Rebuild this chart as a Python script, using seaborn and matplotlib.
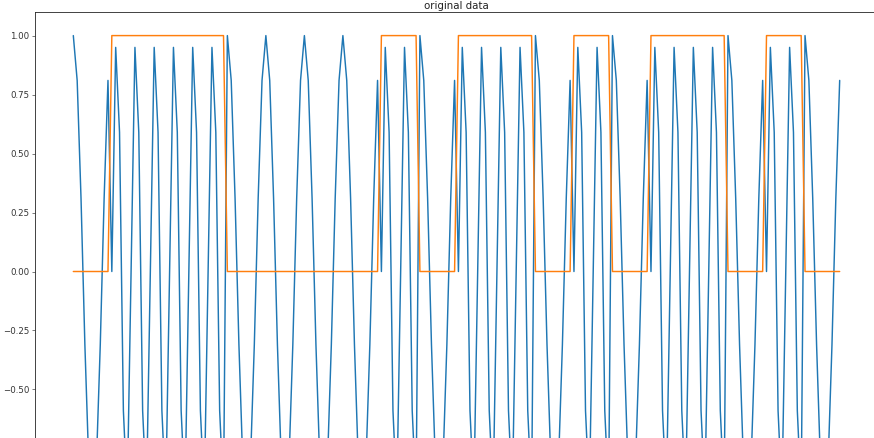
import matplotlib
matplotlib.use("Agg")
import matplotlib.pyplot as plt
import seaborn as sns
import pandas as pd

# Sample index
sample_index = list(range(200))

signal = [
    1.00, 0.81, 0.31, -0.31, -0.81, -1.00, -0.81, -0.31, 0.31, 0.81,
    0.00, 0.95, 0.59, -0.59, -0.95, 0.00, 0.95, 0.59, -0.59, -0.95,
    0.00, 0.95, 0.59, -0.59, -0.95, 0.00, 0.95, 0.59, -0.59, -0.95,
    0.00, 0.95, 0.59, -0.59, -0.95, 0.00, 0.95, 0.59, -0.59, -0.95,
    1.00, 0.81, 0.31, -0.31, -0.81, -1.00, -0.81, -0.31, 0.31, 0.81,
    1.00, 0.81, 0.31, -0.31, -0.81, -1.00, -0.81, -0.31, 0.31, 0.81,
    1.00, 0.81, 0.31, -0.31, -0.81, -1.00, -0.81, -0.31, 0.31, 0.81,
    1.00, 0.81, 0.31, -0.31, -0.81, -1.00, -0.81, -0.31, 0.31, 0.81,
    0.00, 0.95, 0.59, -0.59, -0.95, 0.00, 0.95, 0.59, -0.59, -0.95,
    1.00, 0.81, 0.31, -0.31, -0.81, -1.00, -0.81, -0.31, 0.31, 0.81,
    0.00, 0.95, 0.59, -0.59, -0.95, 0.00, 0.95, 0.59, -0.59, -0.95,
    0.00, 0.95, 0.59, -0.59, -0.95, 0.00, 0.95, 0.59, -0.59, -0.95,
    1.00, 0.81, 0.31, -0.31, -0.81, -1.00, -0.81, -0.31, 0.31, 0.81,
    0.00, 0.95, 0.59, -0.59, -0.95, 0.00, 0.95, 0.59, -0.59, -0.95,
    1.00, 0.81, 0.31, -0.31, -0.81, -1.00, -0.81, -0.31, 0.31, 0.81,
    0.00, 0.95, 0.59, -0.59, -0.95, 0.00, 0.95, 0.59, -0.59, -0.95,
    0.00, 0.95, 0.59, -0.59, -0.95, 0.00, 0.95, 0.59, -0.59, -0.95,
    1.00, 0.81, 0.31, -0.31, -0.81, -1.00, -0.81, -0.31, 0.31, 0.81,
    0.00, 0.95, 0.59, -0.59, -0.95, 0.00, 0.95, 0.59, -0.59, -0.95,
    1.00, 0.81, 0.31, -0.31, -0.81, -1.00, -0.81, -0.31, 0.31, 0.81,
]

# Orange series: binary state (10 samples per row)
state = [
    0, 0, 0, 0, 0, 0, 0, 0, 0, 0,
    1, 1, 1, 1, 1, 1, 1, 1, 1, 1,
    1, 1, 1, 1, 1, 1, 1, 1, 1, 1,
    1, 1, 1, 1, 1, 1, 1, 1, 1, 1,
    0, 0, 0, 0, 0, 0, 0, 0, 0, 0,
    0, 0, 0, 0, 0, 0, 0, 0, 0, 0,
    0, 0, 0, 0, 0, 0, 0, 0, 0, 0,
    0, 0, 0, 0, 0, 0, 0, 0, 0, 0,
    1, 1, 1, 1, 1, 1, 1, 1, 1, 1,
    0, 0, 0, 0, 0, 0, 0, 0, 0, 0,
    1, 1, 1, 1, 1, 1, 1, 1, 1, 1,
    1, 1, 1, 1, 1, 1, 1, 1, 1, 1,
    0, 0, 0, 0, 0, 0, 0, 0, 0, 0,
    1, 1, 1, 1, 1, 1, 1, 1, 1, 1,
    0, 0, 0, 0, 0, 0, 0, 0, 0, 0,
    1, 1, 1, 1, 1, 1, 1, 1, 1, 1,
    1, 1, 1, 1, 1, 1, 1, 1, 1, 1,
    0, 0, 0, 0, 0, 0, 0, 0, 0, 0,
    1, 1, 1, 1, 1, 1, 1, 1, 1, 1,
    0, 0, 0, 0, 0, 0, 0, 0, 0, 0,
]

title = "original data"
# Only the tick labels visible in the (cropped) reference
y_ticks = [-0.50, -0.25, 0.00, 0.25, 0.50, 0.75, 1.00]

df = pd.DataFrame({"x": sample_index, "signal": signal, "state": state})

sns.set_style("white")
plt.rcParams["font.family"] = ["DejaVu Sans"]
palette = sns.color_palette("tab10")

fig = plt.figure(figsize=(8.74, 4.38), dpi=100)
# The reference is a crop of a taller figure: the axes run past the bottom and right edges.
ax = fig.add_axes([35 / 874, 1 - 531 / 438, 843 / 874, 519 / 438])

sns.lineplot(data=df, x="x", y="signal", ax=ax, color=palette[0], linewidth=1.05)
sns.lineplot(data=df, x="x", y="state", ax=ax, color=palette[1], linewidth=1.05)

ax.set_xlim(-9.95, 208.95)
ax.set_ylim(-1.1, 1.1)
ax.set_yticks(y_ticks)
ax.set_yticklabels([f"{v:.2f}".replace("-", "\u2212") for v in y_ticks])
ax.set_xticks([])
ax.set_xlabel("")
ax.set_ylabel("")
ax.set_title(title, fontsize=7.4, pad=2.5, color="#222222")
ax.tick_params(axis="y", left=True, length=2.2, width=0.5, pad=2, labelsize=6.2,
               colors="#444444", labelcolor="#333333")
for s in ax.spines.values():
    s.set_color("#222222")
    s.set_linewidth(0.6)

fig.savefig("out.png", dpi=100)
